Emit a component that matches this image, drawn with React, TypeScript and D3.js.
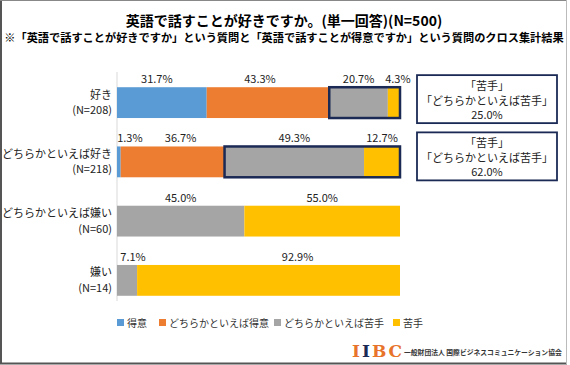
import React, { useRef, useEffect } from "react";
import * as d3 from "d3";

// rows (好き度) with sample sizes
const categories = ["好き", "どちらかといえば好き", "どちらかといえば嫌い", "嫌い"];
const sampleSizes = [208, 218, 60, 14];

// series: 得意度
const seriesNames = ["得意", "どちらかといえば得意", "どちらかといえば苦手", "苦手"];
const tokui = [31.7, 1.3, 0, 0];
const dochiraTokui = [43.3, 36.7, 0, 0];
const dochiraNigate = [20.7, 49.3, 45.0, 7.1];
const nigate = [4.3, 12.7, 55.0, 92.9];

// callouts for the first two rows
const calloutRows = [0, 1];
const calloutTotals = [25.0, 62.0];

const colors = ["#5B9BD5", "#ED7D31", "#A5A5A5", "#FFC000"];
const FONT = "'Noto Sans CJK JP', 'Noto Sans', sans-serif";
const W = 570;
const H = 365;

// small manual nudges of the value labels (like hand-placed labels in the original)
const labelDx: Record<string, number> = {
  "0-0": -5, "0-1": -8, "0-3": 4,
  "1-0": 11, "1-1": 8,
  "3-2": 6, "3-3": 29,
};

const App = () => {
  const ref = useRef<SVGSVGElement>(null);

  useEffect(() => {
    const svg = d3.select(ref.current);
    svg.selectAll("*").remove();

    svg.append("rect").attr("width", W).attr("height", H).attr("fill", "#fff");

    // frame
    svg.append("line").attr("x1", 1).attr("x2", 1).attr("y1", 0).attr("y2", 364)
      .attr("stroke", "#555").attr("stroke-width", 2);
    svg.append("line").attr("x1", 0).attr("x2", 566).attr("y1", 0.5).attr("y2", 0.5)
      .attr("stroke", "#888").attr("stroke-width", 1);
    svg.append("line").attr("x1", 0).attr("x2", 567).attr("y1", 363.5).attr("y2", 363.5)
      .attr("stroke", "#555").attr("stroke-width", 2);
    svg.append("line").attr("x1", 566.5).attr("x2", 566.5).attr("y1", 0).attr("y2", 364)
      .attr("stroke", "#bbb").attr("stroke-width", 1);

    // titles
    svg.append("text")
      .attr("x", 284).attr("y", 26)
      .attr("text-anchor", "middle")
      .style("font-family", FONT).style("font-weight", "bold").style("font-size", "14px")
      .attr("fill", "#000")
      .text("英語で話すことが好きですか。(単一回答)(N=500)");
    svg.append("text")
      .attr("x", 284).attr("y", 42)
      .attr("text-anchor", "middle")
      .style("font-family", FONT).style("font-weight", "bold").style("font-size", "11.2px")
      .attr("fill", "#000")
      .text("※「英語で話すことが好きですか」という質問と「英語で話すことが得意ですか」という質問のクロス集計結果");

    const x = d3.scaleLinear().domain([0, 100]).range([117, 400]);
    const y = d3.scaleBand().domain(categories).range([73, 310]).paddingInner(0.48).paddingOuter(0.24);

    const table = categories.map((c, i) => ({
      cat: c,
      n: sampleSizes[i],
      [seriesNames[0]]: tokui[i],
      [seriesNames[1]]: dochiraTokui[i],
      [seriesNames[2]]: dochiraNigate[i],
      [seriesNames[3]]: nigate[i],
    }));
    const stacked = d3.stack<any>().keys(seriesNames)(table);

    // axis line
    svg.append("line")
      .attr("x1", x(0)).attr("x2", x(0))
      .attr("y1", 72).attr("y2", 301)
      .attr("stroke", "#D9D9D9").attr("stroke-width", 1);

    const g = svg.append("g");
    stacked.forEach((layer, si) => {
      layer.forEach((d, ri) => {
        const v = d[1] - d[0];
        if (v <= 0) return;
        const cat = categories[ri];
        g.append("rect")
          .attr("x", x(d[0]))
          .attr("y", y(cat)!)
          .attr("width", x(d[1]) - x(d[0]))
          .attr("height", y.bandwidth())
          .attr("fill", colors[si]);
        const dx = labelDx[`${ri}-${si}`] || 0;
        g.append("text")
          .attr("x", (x(d[0]) + x(d[1])) / 2 + dx)
          .attr("y", y(cat)! - 4)
          .attr("text-anchor", "middle")
          .style("font-family", FONT).style("font-size", "11px")
          .attr("fill", "#222")
          .text(`${v.toFixed(1)}%`);
      });
    });

    // category labels
    categories.forEach((c, i) => {
      const cy = y(c)! + y.bandwidth() / 2;
      svg.append("text")
        .attr("x", 112).attr("y", cy - 4)
        .attr("text-anchor", "end")
        .style("font-family", FONT).style("font-size", "11px")
        .attr("fill", "#222")
        .text(c);
      svg.append("text")
        .attr("x", 112).attr("y", cy + 11.5)
        .attr("text-anchor", "end")
        .style("font-family", FONT).style("font-size", "11px")
        .attr("fill", "#222")
        .text(`(N=${sampleSizes[i]})`);
    });

    // highlight of 苦手 segments + callouts
    calloutRows.forEach((ri, k) => {
      const cat = categories[ri];
      const start = stacked[2][ri][0];
      const end = stacked[3][ri][1];
      svg.append("rect")
        .attr("x", x(start))
        .attr("y", y(cat)!)
        .attr("width", x(end) - x(start))
        .attr("height", y.bandwidth())
        .attr("fill", "none")
        .attr("stroke", "#1B2A55")
        .attr("stroke-width", 2.5);

      const cy = y(cat)! + y.bandwidth() / 2 - (k === 0 ? 3.5 : 5.5);
      svg.append("rect")
        .attr("x", 417).attr("y", cy - 24)
        .attr("width", 140).attr("height", 48)
        .attr("fill", "#fff")
        .attr("stroke", "#1B2A55").attr("stroke-width", 1.8);
      const lines = ["「苦手」", "「どちらかといえば苦手」", `${calloutTotals[k].toFixed(1)}%`];
      lines.forEach((l, li) => {
        svg.append("text")
          .attr("x", 487).attr("y", cy - 9 + li * 14.5)
          .attr("text-anchor", "middle")
          .style("font-family", FONT).style("font-size", "11px")
          .attr("fill", "#222")
          .text(l);
      });
    });

    // legend
    const legendX = [117, 159, 274, 393];
    seriesNames.forEach((s, i) => {
      svg.append("rect")
        .attr("x", legendX[i]).attr("y", 319)
        .attr("width", 7).attr("height", 7)
        .attr("fill", colors[i]);
      svg.append("text")
        .attr("x", legendX[i] + 10).attr("y", 326.5)
        .style("font-family", FONT).style("font-size", "10px")
        .attr("fill", "#333")
        .text(s);
    });

    // logo
    const logo = svg.append("text")
      .attr("x", 352).attr("y", 357)
      .style("font-family", "'DejaVu Serif', 'Liberation Serif', serif")
      .style("font-weight", "bold").style("font-size", "17px")
      .attr("letter-spacing", "2px");
    logo.append("tspan").attr("fill", "#E8732A").text("I");
    logo.append("tspan").attr("fill", "#1B2A55").text("I");
    logo.append("tspan").attr("fill", "#E8732A").text("BC");
    svg.append("text")
      .attr("x", 404).attr("y", 355)
      .style("font-family", FONT).style("font-weight", "bold").style("font-size", "6.8px")
      .attr("fill", "#333")
      .text("一般財団法人 国際ビジネスコミュニケーション協会");
  }, []);

  return (
    <svg
      ref={ref}
      width={W}
      height={H}
      style={{ position: "fixed", left: 0, top: 0 }}
    />
  );
};

export default App;
